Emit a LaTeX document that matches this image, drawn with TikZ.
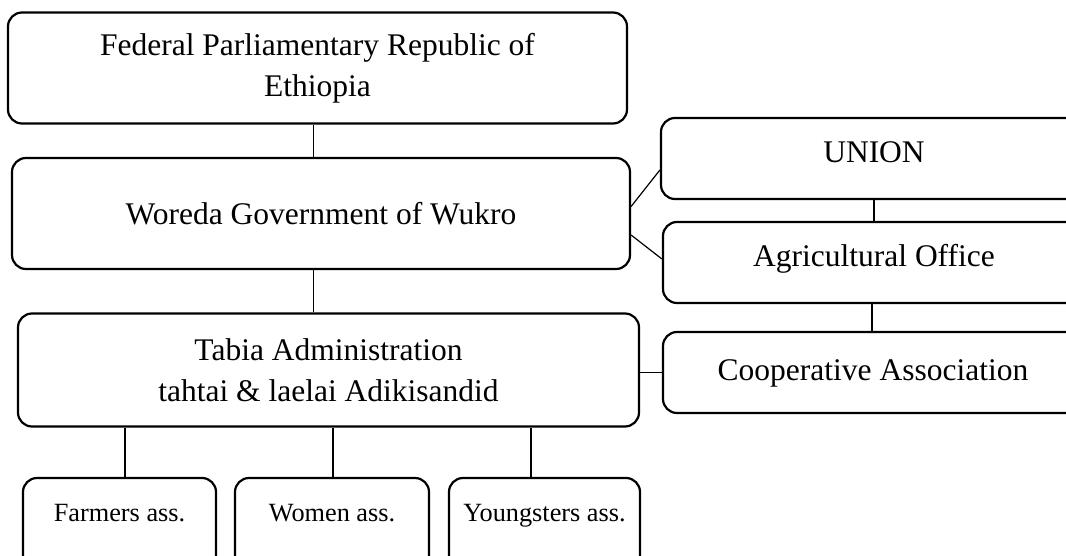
\documentclass[tikz,border=0pt]{standalone}
\usepackage{fontspec}
\setmainfont{Liberation Serif}
\usetikzlibrary{calc}

\tikzset{
  box/.style={draw, line width=2.2pt, rounded corners=14pt, align=center,
    inner sep=0pt, font=\fontsize{31.5}{41}\selectfont},
  sidebox/.style={box, minimum width=#1},
  assbox/.style={draw, line width=2.2pt, rounded corners=14pt, inner sep=0pt,
    minimum width=193pt, text height=43pt, text depth=50pt,
    font=\fontsize{26.3}{30}\selectfont},
  link/.style={line width=1.2pt}
}

\begin{document}
\begin{tikzpicture}[x=1pt,y=-1pt]

        % Page
        \clip (0,0) rectangle (1066,556);

        % Left column
        \node[box, minimum width=619pt, minimum height=111pt] (fed) at (317.5,68)
          {Federal Parliamentary Republic of\\Ethiopia};
        \node[box, minimum width=618pt, minimum height=111pt] (woreda) at (321,213.5)
          {Woreda Government of Wukro};
        \node[box, minimum width=621pt, minimum height=113pt] (tabia) at (328.5,370)
          {Tabia Administration\\tahtai \& laelai Adikisandid};

        % Right column
        \node[sidebox=426pt, text height=45pt, text depth=36pt] (union) at (874,158.5) {UNION};
        \node[sidebox=422pt, text height=44pt, text depth=37pt] (agri) at (874,262.5) {Agricultural Office};
        \node[sidebox=420pt, text height=48pt, text depth=33pt] (coop) at (873,372.5) {Cooperative Association};

        % Associations
        \node[assbox] (farmers) at (119.5,524.5) {Farmers ass.};
        \node[assbox, minimum width=194pt] (women) at (332,524.5) {Women ass.};
        \node[assbox, minimum width=191pt] (youngsters) at (544.5,524.5) {Youngsters ass.};

        % Links
        \draw[link] ([xshift=-4pt]fed.south) -- ([xshift=-4pt]fed.south |- woreda.north);
        \draw[link] ([xshift=-4pt]woreda.south -| fed.south) -- ([xshift=-4pt]fed.south |- tabia.north);
        \draw[link] ([yshift=7pt]woreda.east) -- ([yshift=-11.5pt]union.west);
        \draw[link] ([yshift=-21.5pt]woreda.east) -- ([yshift=3.5pt]agri.west);
        \draw[link] (union.south) -- (union.south |- agri.north);
        \draw[link] ([xshift=-2pt]agri.south) -- ([xshift=-2pt]agri.south |- coop.north);
        \draw[link] (coop.west -| tabia.east) -- (coop.west);

        \foreach \ass/\dx in {farmers/5.5,women/1,youngsters/-13.5}
        {
          \draw[link] ([xshift=\dx pt]tabia.south -| \ass.north) -- ([xshift=\dx pt]\ass.north);
        }
    \end{tikzpicture}
\end{document}
